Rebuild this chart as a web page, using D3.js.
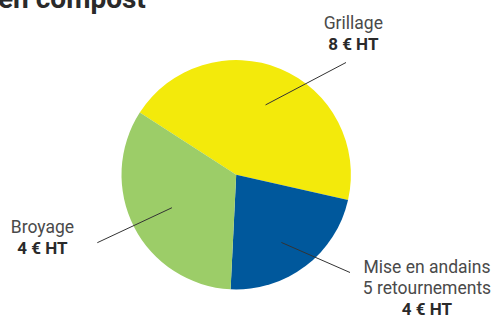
<!DOCTYPE html>
<html>
<head>
<meta charset="utf-8">
<script src="https://cdn.jsdelivr.net/npm/d3@7"></script>
<style>
  html, body { margin: 0; padding: 0; background: #fff; }
  svg { display: block; }
  text { font-family: Roboto, "Liberation Sans", sans-serif; }
</style>
</head>
<body>
<svg id="chart" width="497" height="315"></svg>
<script>
// ---- data ----
const categories = ["Grillage", "Mise en andains", "Broyage"];
const values = [8, 4, 6];
const labelLines = [["Grillage"], ["Mise en andains", "5 retournements"], ["Broyage"]];
const priceLabels = ["8 € HT", "4 € HT", "4 € HT"];
const colors = ["#F3EA0B", "#00589C", "#9CCD68"];
const titleText = "en compost";

// ---- layout ----
const W = 497, H = 315;
const cx = 236.2, cy = 174.7, R = 114.7;
const startDeg = -57.2;
// leader lines: inner radius factor, angle offset (deg), outer end, label center x, first baseline
const leaders = [
  { rf: 0.66, da: 0,  ox: 346,  oy: 62.5,  lx: 353.3, ly: 29 },
  { rf: 0.71, da: 3.5, ox: 350,  oy: 272.5, lx: 427,   ly: 273.3 },
  { rf: 0.63, da: 0,  ox: 97.3, oy: 242.7, lx: 42.5,  ly: 232.7 }
];
const lineH = 21;

const svg = d3.select("#chart");

svg.append("text")
  .attr("x", -2).attr("y", 8)
  .attr("font-size", 28).attr("font-weight", 700)
  .attr("fill", "#2a2a2a")
  .text(titleText);

const deg = Math.PI / 180;
const pie = d3.pie().sort(null)
  .startAngle(startDeg * deg).endAngle(startDeg * deg + 2 * Math.PI)
  .value(d => d);
const arcs = pie(values);
const arc = d3.arc().innerRadius(0).outerRadius(R);

const g = svg.append("g").attr("transform", `translate(${cx},${cy})`);
g.selectAll("path").data(arcs).join("path")
  .attr("d", arc)
  .attr("fill", (d, i) => colors[i]);

// leader lines
arcs.forEach((a, i) => {
  const L = leaders[i];
  const mid = (a.startAngle + a.endAngle) / 2 + L.da * deg;
  const r = R * L.rf;
  const x1 = cx + r * Math.sin(mid), y1 = cy - r * Math.cos(mid);
  svg.append("line")
    .attr("x1", x1).attr("y1", y1)
    .attr("x2", L.ox).attr("y2", L.oy)
    .attr("stroke", "#333").attr("stroke-width", 1);

  const lines = labelLines[i];
  lines.forEach((t, k) => {
    svg.append("text")
      .attr("x", L.lx).attr("y", L.ly + k * lineH)
      .attr("text-anchor", "middle")
      .attr("font-size", 17.5)
      .attr("fill", "#4a4a4a")
      .text(t);
  });
  svg.append("text")
    .attr("x", L.lx).attr("y", L.ly + lines.length * lineH)
    .attr("text-anchor", "middle")
    .attr("font-size", 17).attr("font-weight", 700)
    .attr("fill", "#2a2a2a")
    .text(priceLabels[i]);
});
</script>
</body>
</html>
